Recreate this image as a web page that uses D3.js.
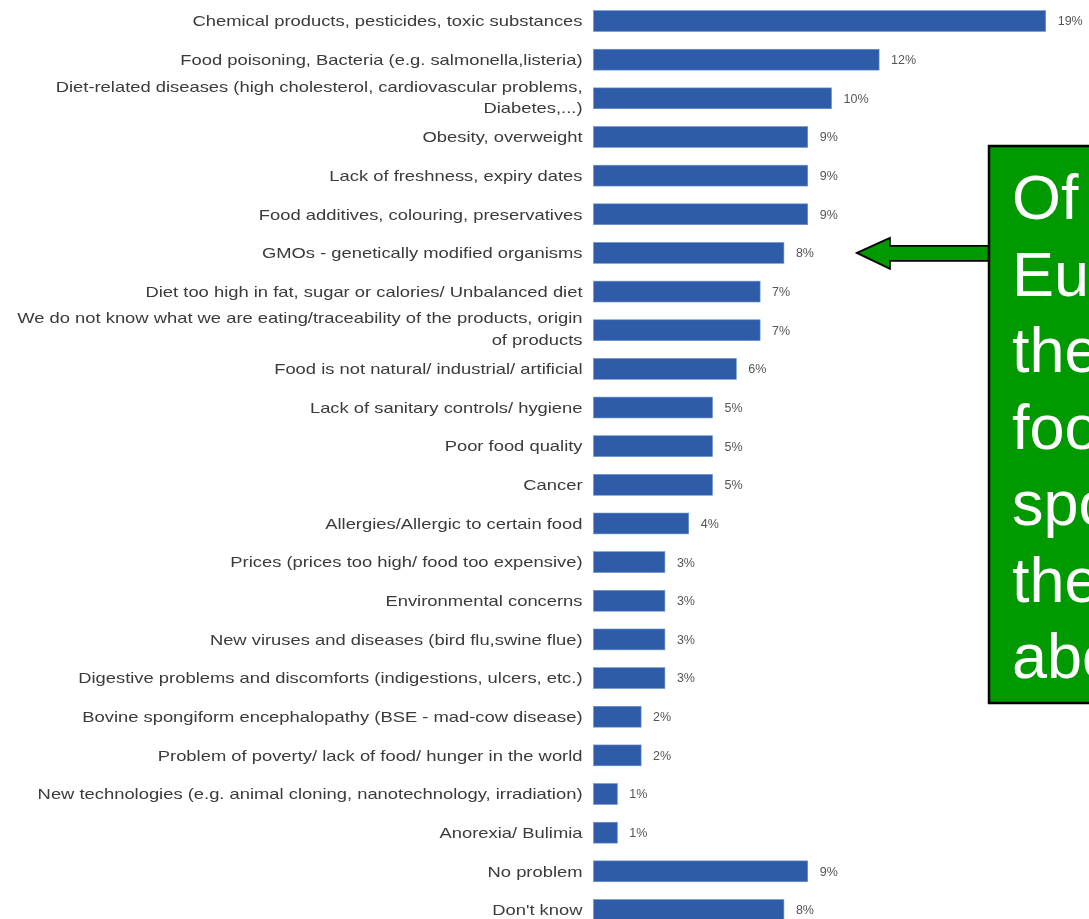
<!DOCTYPE html>
<html>
<head>
<meta charset="utf-8">
<script src="https://cdn.jsdelivr.net/npm/d3@7"></script>
<style>
  html, body { margin: 0; padding: 0; background: #ffffff; overflow: hidden; }
  svg { display: block; }
</style>
</head>
<body>
<svg id="chart" width="1089" height="919"></svg>
<script>
// Perceived food-related risks (% of respondents), one bar per answer
const categories = [
  "Chemical products, pesticides, toxic substances",
  "Food poisoning, Bacteria (e.g. salmonella,listeria)",
  "Diet-related diseases (high cholesterol, cardiovascular problems,\nDiabetes,...)",
  "Obesity, overweight",
  "Lack of freshness, expiry dates",
  "Food additives, colouring, preservatives",
  "GMOs - genetically modified organisms",
  "Diet too high in fat, sugar or calories/ Unbalanced diet",
  "We do not know what we are eating/traceability of the products, origin\nof products",
  "Food is not natural/ industrial/ artificial",
  "Lack of sanitary controls/ hygiene",
  "Poor food quality",
  "Cancer",
  "Allergies/Allergic to certain food",
  "Prices (prices too high/ food too expensive)",
  "Environmental concerns",
  "New viruses and diseases (bird flu,swine flue)",
  "Digestive problems and discomforts (indigestions, ulcers, etc.)",
  "Bovine spongiform encephalopathy (BSE - mad-cow disease)",
  "Problem of poverty/ lack of food/ hunger in the world",
  "New technologies (e.g. animal cloning, nanotechnology, irradiation)",
  "Anorexia/ Bulimia",
  "No problem",
  "Don't know"
];
const values = [19, 12, 10, 9, 9, 9, 8, 7, 7, 6, 5, 5, 5, 4, 3, 3, 3, 3, 2, 2, 1, 1, 9, 8];

// Callout text in the green box
const calloutLines = ["Of the", "Europeans,", "the ones", "food-minded", "spontaneously", "they speak", "about GMOs"];

const svg = d3.select("#chart");

const x = d3.scaleLinear().domain([0, 19]).range([593.5, 1045.7]);
const y = d3.scaleBand()
  .domain(categories)
  .range([1.7, 929.3])
  .paddingInner(0.46)
  .paddingOuter(0.23);

// Soft look of the chart area
const defs = svg.append("defs");
defs.append("filter").attr("id", "soft")
  .append("feGaussianBlur").attr("stdDeviation", 0.45);

const chart = svg.append("g").attr("filter", "url(#soft)");

// Category axis: labels only, no line or ticks; the face is set slightly wide
const stretch = 1.225;
const labelGap = 11;
const axis = chart.append("g")
  .attr("transform", `translate(${x(0)},0)`)
  .call(d3.axisLeft(y).tickSize(0).tickPadding(labelGap));
axis.select(".domain").remove();
axis.selectAll(".tick text")
  .attr("fill", "#3a3a3a")
  .attr("transform", `scale(${stretch},1)`)
  .style("font-family", "Arial, 'Liberation Sans', sans-serif")
  .style("font-size", "15px")
  .each(function (d) {
    const lines = d.split("\n");
    const t = d3.select(this);
    const tx = -labelGap / stretch;
    t.text(null).attr("x", tx);
    if (lines.length === 1) {
      t.append("tspan").attr("x", tx).attr("dy", "0.35em").text(lines[0]);
    } else {
      t.append("tspan").attr("x", tx).attr("dy", "-0.45em").text(lines[0]);
      t.append("tspan").attr("x", tx).attr("dy", "1.42em").text(lines[1]);
    }
  });

// Bars
chart.append("g").selectAll("rect")
  .data(categories)
  .join("rect")
  .attr("x", x(0))
  .attr("y", d => y(d))
  .attr("width", (d, i) => x(values[i]) - x(0))
  .attr("height", y.bandwidth())
  .attr("fill", "#2d5ca8")
  .attr("stroke", "#6f93cf")
  .attr("stroke-width", 0.6);

// Value labels
chart.append("g").selectAll("text")
  .data(categories)
  .join("text")
  .attr("x", (d, i) => x(values[i]) + 12)
  .attr("y", d => y(d) + y.bandwidth() / 2)
  .attr("dy", "0.35em")
  .attr("fill", "#555555")
  .style("font-family", "Arial, 'Liberation Sans', sans-serif")
  .style("font-size", "12.5px")
  .text((d, i) => values[i] + "%");

// Callout arrow pointing at the GMO bar
const gmoY = y(categories[6]) + y.bandwidth() / 2;
const tipX = x(values[6]) + 73;
const boxX = 989;
const arrowPts = [
  [tipX, gmoY],
  [tipX + 33, gmoY - 15],
  [tipX + 33, gmoY - 7],
  [boxX, gmoY - 7],
  [boxX, gmoY + 8],
  [tipX + 33, gmoY + 8],
  [tipX + 33, gmoY + 16]
];
svg.append("polygon")
  .attr("points", arrowPts.map(p => p.join(",")).join(" "))
  .attr("fill", "#009900")
  .attr("stroke", "#000000")
  .attr("stroke-width", 1.8)
  .attr("stroke-linejoin", "miter");

// Green callout box
svg.append("rect")
  .attr("x", boxX)
  .attr("y", 146)
  .attr("width", 200)
  .attr("height", 557)
  .attr("fill", "#009900")
  .attr("stroke", "#000000")
  .attr("stroke-width", 2.5);

svg.append("g").selectAll("text")
  .data(calloutLines)
  .join("text")
  .attr("x", 1012)
  .attr("y", (d, i) => 219 + i * 76.5)
  .attr("fill", "#ffffff")
  .style("font-family", "Arial, 'Liberation Sans', sans-serif")
  .style("font-size", "63px")
  .text(d => d);
</script>
</body>
</html>
